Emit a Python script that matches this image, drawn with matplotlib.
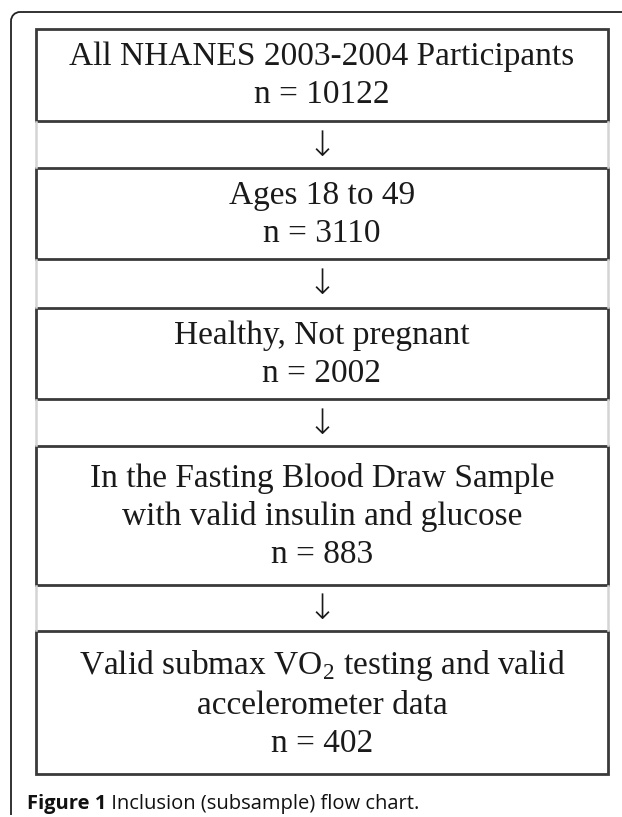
import matplotlib.pyplot as plt
from matplotlib.patches import Rectangle, Arc

# flow chart content
stages = [
    "All NHANES 2003-2004 Participants",
    "Ages 18 to 49",
    "Healthy, Not pregnant",
    "In the Fasting Blood Draw Sample\nwith valid insulin and glucose",
    "Valid submax VO$_\\mathregular{2}$ testing and valid\naccelerometer data",
]
counts = [10122, 3110, 2002, 883, 402]

# box layout (pixels, from top)
box_tops = [29, 168, 308, 446, 631]
box_bottoms = [121, 259, 399, 585, 774]
box_left, box_right = 36, 608

caption_bold = "Figure 1"
caption_rest = " Inclusion (subsample) flow chart."

W, H = 622, 817
fig = plt.figure(figsize=(W / 100, H / 100), dpi=100)
ax = fig.add_axes([0, 0, 1, 1])
ax.set_xlim(0, W)
ax.set_ylim(H, 0)
ax.axis('off')

serif = ['Liberation Serif', 'DejaVu Serif']
box_col = '#3a3a3a'
gap_col = '#d4d4d4'

# outer panel border (rounded top-left corner, open at right and bottom)
r = 9
ax.plot([11, 11], [815, 12 + r], color='#222222', lw=1.3, solid_capstyle='butt')
ax.plot([11 + r, W + 5], [12, 12], color='#222222', lw=1.3, solid_capstyle='butt')
ax.add_patch(Arc((11 + r, 12 + r), 2 * r, 2 * r, theta1=180, theta2=270,
                 color='#222222', lw=1.3))

xc = (box_left + box_right) / 2
for i, (label, n) in enumerate(zip(stages, counts)):
    top, bot = box_tops[i], box_bottoms[i]
    ax.add_patch(Rectangle((box_left, top), box_right - box_left, bot - top,
                           fill=False, ec=box_col, lw=2.0))
    ax.text(xc, (top + bot) / 2 + 1, f"{label}\nn = {n}", ha='center', va='center',
            fontsize=24, family=serif, color='#1a1a1a', linespacing=1.32)
    if i < len(stages) - 1:
        g0, g1 = bot, box_tops[i + 1]
        for x in (box_left, box_right):
            ax.plot([x, x], [g0 + 1, g1 - 1], color=gap_col, lw=1.8)
        ax.text(xc, (g0 + g1) / 2 + 1, "\u2193", ha='center', va='center',
                fontsize=25, family=['DejaVu Sans'], weight='light', color='#1a1a1a')

# caption
cy = 804
t = ax.text(27, cy, caption_bold, ha='left', va='center', fontsize=14.5,
            family='Open Sans', weight='bold', color='#111111')
fig.canvas.draw()
bb = t.get_window_extent()
x_end = ax.transData.inverted().transform((bb.x1, bb.y0))[0]
ax.text(x_end, cy, caption_rest, ha='left', va='center', fontsize=14.5,
        family='Open Sans', color='#111111')

fig.savefig('out.png', dpi=100)
